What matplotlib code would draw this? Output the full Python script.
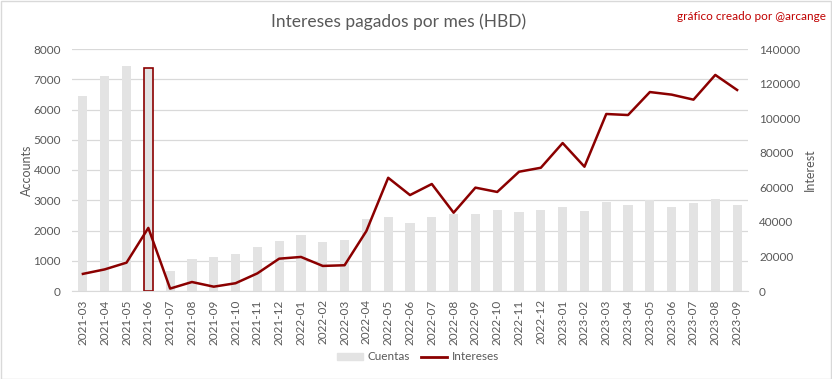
import numpy as np
import matplotlib.pyplot as plt
from matplotlib.patches import Patch
from matplotlib.lines import Line2D

months = ["2021-03", "2021-04", "2021-05", "2021-06", "2021-07", "2021-08", "2021-09",
          "2021-10", "2021-11", "2021-12", "2022-01", "2022-02", "2022-03", "2022-04",
          "2022-05", "2022-06", "2022-07", "2022-08", "2022-09", "2022-10", "2022-11",
          "2022-12", "2023-01", "2023-02", "2023-03", "2023-04", "2023-05", "2023-06",
          "2023-07", "2023-08", "2023-09"]
cuentas = [6450, 7100, 7450, 7380, 670, 1050, 1130, 1230, 1460, 1660, 1860, 1630, 1700,
           2370, 2450, 2260, 2430, 2545, 2555, 2680, 2615, 2670, 2780, 2645, 2945, 2845,
           3000, 2780, 2920, 3040, 2845]
intereses = [9900, 12500, 16400, 36500, 1400, 5200, 2500, 4500, 10200, 18700, 19700,
             14500, 14900, 34700, 65500, 55500, 61900, 45300, 59800, 57300, 69000, 71300,
             85600, 71900, 102400, 101800, 115100, 113600, 110700, 125000, 116300]
highlight = "2021-06"

gray_txt = "#595959"
red = "#8b0000"
plt.rcParams['font.family'] = ['Lato', 'DejaVu Sans']

fig = plt.figure(figsize=(8.32, 3.79), dpi=100)
ax = fig.add_axes([72/832, 1 - 291/379, (748 - 72)/832, (291 - 49)/379])
ax2 = ax.twinx()

x = np.arange(len(months))
bars = ax.bar(x, cuentas, width=0.42, color="#e3e3e3", zorder=2)
hi = months.index(highlight)
bars[hi].set_edgecolor(red)
bars[hi].set_linewidth(1.2)

ax2.plot(x, intereses, color=red, lw=1.8, zorder=3)

ax.set_xlim(-0.5, len(months) - 0.5)
ax.set_ylim(0, 8000)
ax.set_yticks(range(0, 8001, 1000))
ax2.set_ylim(0, 140000)
ax2.set_yticks(range(0, 140001, 20000))
ax.set_xticks(x)
ax.set_xticklabels(months, rotation=90)
ax.grid(axis="y", color="#d9d9d9", lw=0.9, zorder=0)
ax.set_axisbelow(True)

for a in (ax, ax2):
    for s in a.spines.values():
        s.set_visible(False)
    a.tick_params(length=0, colors=gray_txt, labelsize=8.5)
ax.spines["bottom"].set_visible(True)
ax.spines["bottom"].set_color("#d9d9d9")
ax.tick_params(axis="x", pad=6)
ax.tick_params(axis="y", pad=8)
ax2.tick_params(axis="y", pad=8)

ax.set_ylabel("Accounts", color=gray_txt, fontsize=9)
ax2.set_ylabel("Interest", color=gray_txt, fontsize=9)
ax.yaxis.set_label_coords(-0.058, 0.5)
ax2.yaxis.set_label_coords(1.083, 0.5)

fig.text(399/832, 1 - 22/379, "Intereses pagados por mes (HBD)", ha="center", va="center",
         color=gray_txt, fontsize=12.5)
fig.text(826/832, 1 - 17/379, "gráfico creado por @arcange", ha="right", va="center",
         color="#c00000", fontsize=8.5)

handles = [Patch(color="#e3e3e3", label="Cuentas"), Line2D([], [], color=red, lw=2, label="Intereses")]
fig.legend(handles=handles, loc="center", bbox_to_anchor=(418/832, 1 - 357/379), ncol=2,
           frameon=False, fontsize=8.5, labelcolor=gray_txt, handlelength=2.2,
           handleheight=0.6, columnspacing=1.0, handletextpad=0.4)

fig.patches.append(plt.Rectangle((0.001, 0.001), 0.998, 0.997, transform=fig.transFigure,
                                 fill=False, edgecolor="#d9d9d9", lw=1))
fig.savefig("out.png", dpi=100)
